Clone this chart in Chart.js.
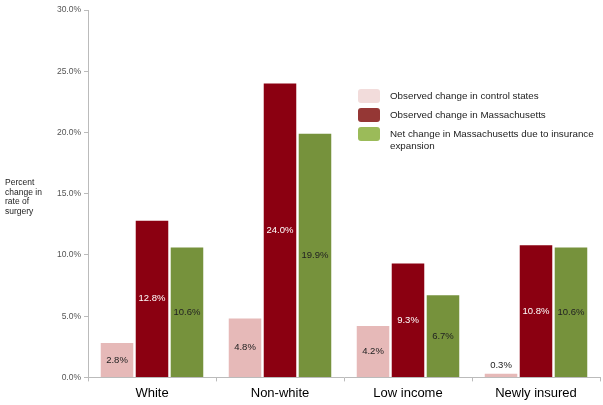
<!DOCTYPE html>
<html>
<head>
<meta charset="utf-8">
<script src="https://cdn.jsdelivr.net/npm/chart.js@4/dist/chart.umd.min.js"></script>
<style>
  html, body { margin: 0; padding: 0; background: #fff; }
  #wrap { width: 603px; height: 405px; }
</style>
</head>
<body>
<div id="wrap"><canvas id="surgeryChart"></canvas></div>
<script>
// categories and series
const categories = ['White', 'Non-white', 'Low income', 'Newly insured'];
const controlStates = [2.8, 4.8, 4.2, 0.3];
const massachusetts = [12.8, 24.0, 9.3, 10.8];
const netChange = [10.6, 19.9, 6.7, 10.6];
const seriesNames = [
    'Observed change in control states',
    'Observed change in Massachusetts',
    'Net change in Massachusetts due to insurance expansion'
];
const yTitle = ['Percent', 'change in', 'rate of', 'surgery'];

const barColors = ['#E6B9B8', '#8B0011', '#76923C'];
const legendColors = ['#F2DCDB', '#953735', '#9BBB59'];
const labelColors = ['#222', '#fff', '#222'];

/**
 * Writes the value inside each bar, or above it when the bar is too short
 */
const barLabels = {
    id: 'barLabels',
    afterDatasetsDraw(chart) {
        const ctx = chart.ctx;
        ctx.save();
        ctx.font = '9.5px "Liberation Sans", Arial, sans-serif';
        ctx.textAlign = 'center';
        ctx.textBaseline = 'middle';
        chart.data.datasets.forEach((ds, i) => {
            chart.getDatasetMeta(i).data.forEach((bar, j) => {
                const h = bar.base - bar.y;
                const text = ds.data[j].toFixed(1) + '%';
                if (h < 14) {
                    ctx.fillStyle = '#222';
                    ctx.fillText(text, bar.x, bar.y - 8);
                } else {
                    ctx.fillStyle = labelColors[i];
                    ctx.fillText(text, bar.x, (bar.y + bar.base) / 2);
                }
            });
        });
        ctx.restore();
    }
};

/**
 * Legend and y axis title, drawn by hand to match the original layout
 */
const extras = {
    id: 'extras',
    afterDraw(chart) {
        const ctx = chart.ctx;
        ctx.save();
        ctx.font = '8.5px "Liberation Sans", Arial, sans-serif';
        ctx.fillStyle = '#222';
        ctx.textAlign = 'left';
        ctx.textBaseline = 'middle';
        yTitle.forEach((line, k) => ctx.fillText(line, 5, 182.5 + k * 9.8));

        ctx.font = '9.8px "Liberation Sans", Arial, sans-serif';
        const rows = [[96], [115], [134, 146]];
        const lines = [[seriesNames[0]], [seriesNames[1]],
            ['Net change in Massachusetts due to insurance', 'expansion']];
        rows.forEach((ys, i) => {
            ctx.fillStyle = legendColors[i];
            ctx.beginPath();
            ctx.roundRect(358, ys[0] - 7, 22, 14, 3);
            ctx.fill();
            ctx.fillStyle = '#222';
            lines[i].forEach((t, k) => ctx.fillText(t, 390, ys[k]));
        });
        ctx.restore();
    }
};

function renderChart() {
    const datasets = [controlStates, massachusetts, netChange].map((values, i) => {
        return {
            label: seriesNames[i],
            data: values,
            backgroundColor: barColors[i],
            categoryPercentage: 0.82,
            barPercentage: 0.93
        };
    });

    const ctx = document.getElementById('surgeryChart').getContext('2d');
    new Chart(ctx, {
        type: 'bar',
        data: { labels: categories, datasets: datasets },
        options: {
            responsive: true,
            maintainAspectRatio: false,
            animation: false,
            layout: { padding: { top: 10, right: 3, left: 0, bottom: 0 } },
            plugins: {
                legend: { display: false },
                tooltip: { enabled: false }
            },
            scales: {
                x: {
                    grid: { display: true, drawOnChartArea: false, offset: true, tickLength: 4, color: '#bbb' },
                    border: { color: '#bbb' },
                    ticks: { color: '#000', font: { size: 13, family: '"Liberation Sans", Arial, sans-serif' }, padding: 4 }
                },
                y: {
                    min: 0,
                    max: 30,
                    afterFit(scale) { scale.width = 88; },
                    grid: { drawOnChartArea: false, tickLength: 4, color: '#bbb' },
                    border: { color: '#bbb' },
                    ticks: {
                        stepSize: 5,
                        color: '#555',
                        padding: 3,
                        font: { size: 8.5, family: '"Liberation Sans", Arial, sans-serif' },
                        callback: v => v.toFixed(1) + '%'
                    }
                }
            }
        },
        plugins: [barLabels, extras]
    });
}

renderChart();
</script>
</body>
</html>
